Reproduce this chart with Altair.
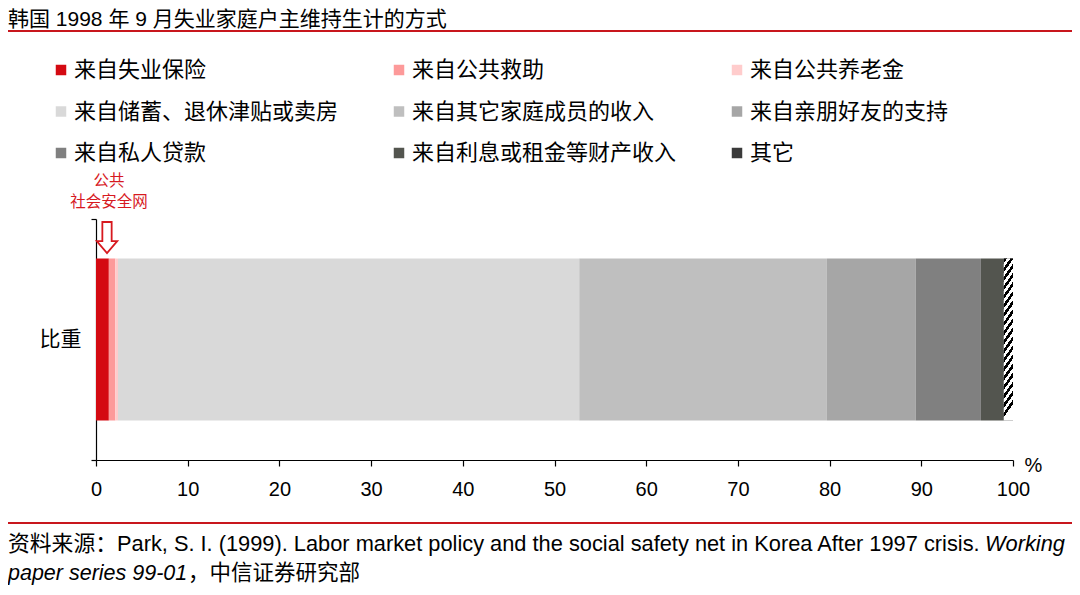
import altair as alt
import pandas as pd

# ---------------- data ----------------
categories = [
    "来自失业保险", "来自公共救助", "来自公共养老金",
    "来自储蓄、退休津贴或卖房", "来自其它家庭成员的收入", "来自亲朋好友的支持",
    "来自私人贷款", "来自利息或租金等财产收入", "其它",
]
shares = [1.4, 0.7, 0.3, 50.3, 27.0, 9.7, 7.1, 2.5, 1.0]
colors = ["#D40A12", "#FD9A9A", "#FFCCCC", "#D9D9D9", "#BFBFBF",
          "#A6A6A6", "#808080", "#53554F", "#3A3A3A"]
row_label = ["比重"]
x_ticks = [0, 10, 20, 30, 40, 50, 60, 70, 80, 90, 100]
public_count = 3
annot_lines = ["公共", "社会安全网"]
title_text = ["韩国 1998 年 9 月失业家庭户主维持生计的方式"]
source_1a = ["资料来源：Park, S. I. (1999). Labor market policy and the social safety net in Korea After 1997 crisis."]
source_1b = ["Working"]
source_2a = ["paper series 99-01"]
source_2b = ["，中信证券研究部"]

df = pd.DataFrame({"来源": categories, "占比": shares})
df["止"] = df["占比"].cumsum()
df["起"] = df["止"] - df["占比"]
df["行"] = row_label[0]

ann_df = pd.DataFrame({"x": [sum(shares[:public_count]) / 2]})

CJK = "Noto Sans CJK SC"
LAT = "Liberation Sans, Arial, Noto Sans CJK SC"
RED = "#D7191F"
BAND = 0.672

# ---------------- main stacked bar ----------------
bars = alt.Chart(df).mark_bar(height=alt.RelativeBandSize(band=BAND)).encode(
    y=alt.Y("行:N", title=None,
            scale=alt.Scale(paddingInner=0, paddingOuter=0),
            axis=alt.Axis(tickBand="extent", tickSize=5, labelFontSize=21,
                          labelFont=CJK, labelColor="#000000", labelPadding=10,
                          domainColor="#000000", tickColor="#000000",
                          domainWidth=1.2, tickWidth=1.2)),
    x=alt.X("起:Q", scale=alt.Scale(domain=[0, 100], nice=False),
            axis=alt.Axis(values=x_ticks, title="%", grid=False,
                          tickSize=6, tickColor="#000000", domainColor="#000000",
                          domainWidth=1.2, tickWidth=1.2,
                          labelFontSize=20, labelFont=LAT, labelColor="#000000",
                          labelPadding=13, labelFlush=False,
                          titleFontSize=20, titleFont=LAT, titleFontWeight="normal",
                          titleColor="#000000", titleX=937, titleY=5,
                          titleAlign="center", titleBaseline="middle")),
    x2="止:Q",
    color=alt.Color("来源:N", scale=alt.Scale(domain=categories, range=colors),
                    legend=alt.Legend(orient="none", legendX=-46, legendY=-160,
                                      columns=3, direction="horizontal",
                                      title=None, symbolType="square",
                                      symbolSize=110, symbolStrokeWidth=0,
                                      labelFontSize=22, labelFont=CJK,
                                      labelColor="#000000", labelLimit=500,
                                      labelOffset=2, columnPadding=49,
                                      rowPadding=19.5, gridAlign="all")),
)

# hatch overlay for "其它"
stops = []
N = 18
for k in range(N):
    a = k / N
    b = (k + 0.5) / N
    c = (k + 1) / N
    stops += [alt.GradientStop(color="#000000", offset=a),
              alt.GradientStop(color="#000000", offset=b),
              alt.GradientStop(color="#FFFFFF", offset=b),
              alt.GradientStop(color="#FFFFFF", offset=c)]
hatch_fill = alt.LinearGradient(gradient="linear", stops=stops,
                                x1=0, y1=0, x2=0.08, y2=1)

hatch = alt.Chart(df).transform_filter(alt.datum["来源"] == categories[-1]).mark_bar(
    height=alt.RelativeBandSize(band=BAND), color=hatch_fill
).encode(y="行:N", x="起:Q", x2="止:Q")

# ---------------- annotation ----------------
arrow_path = ("M -0.3 -1 L 0.3 -1 L 0.3 0.23 L 0.66 0.23 L 0 1 "
              "L -0.66 0.23 L -0.3 0.23 Z")
arrow = alt.Chart(ann_df).mark_point(
    shape=arrow_path, size=961, filled=True, fill="#FFFFFF", stroke=RED,
    strokeWidth=1.8, opacity=1
).encode(x="x:Q", y=alt.value(18.5))

ann1 = alt.Chart(ann_df.assign(t=annot_lines[0])).mark_text(
    font=CJK, fontSize=15.5, color=RED, align="center", baseline="middle", dx=2
).encode(x="x:Q", y=alt.value(-38), text="t:N")
ann2 = alt.Chart(ann_df.assign(t=annot_lines[1])).mark_text(
    font=CJK, fontSize=15.5, color=RED, align="center", baseline="middle", dx=2
).encode(x="x:Q", y=alt.value(-17), text="t:N")

# ---------------- title, rules, source ----------------
def txt(lines, x, y, font, size, align="left", style="normal"):
    return alt.Chart(pd.DataFrame({"t": lines})).mark_text(
        font=font, fontSize=size, color="#000000", align=align,
        baseline="middle", fontStyle=style
    ).encode(x=alt.value(x), y=alt.value(y), text="t:N")

title = txt(title_text, -88, -199, LAT, 21)
src1a = txt(source_1a, -88, 325, LAT, 21.8)
src1b = txt(source_1b, 889, 325, LAT, 21.8, style="italic")
src2a = txt(source_2a, -88, 355, LAT, 21.5, style="italic")
src2b = txt(source_2b, 92, 355, LAT, 21.5)

rule_df = pd.DataFrame({"k": [0]})
rule_top = alt.Chart(rule_df).mark_rule(color="#C8161D", strokeWidth=2).encode(
    x=alt.value(-88), x2=alt.value(976), y=alt.value(-188))
rule_bot = alt.Chart(rule_df).mark_rule(color="#C8161D", strokeWidth=2).encode(
    x=alt.value(-88), x2=alt.value(976), y=alt.value(304))

chart = alt.layer(
    bars, hatch, arrow, ann1, ann2, title, rule_top, rule_bot,
    src1a, src1b, src2a, src2b
).properties(
    width=917, height=241,
    autosize=alt.AutoSizeParams(type="none"),
    padding={"left": 88, "top": 211, "right": 59, "bottom": 127},
).configure_view(strokeWidth=0, stroke=None)

chart.save("out.html", embed_options={"renderer": "svg", "actions": False})
